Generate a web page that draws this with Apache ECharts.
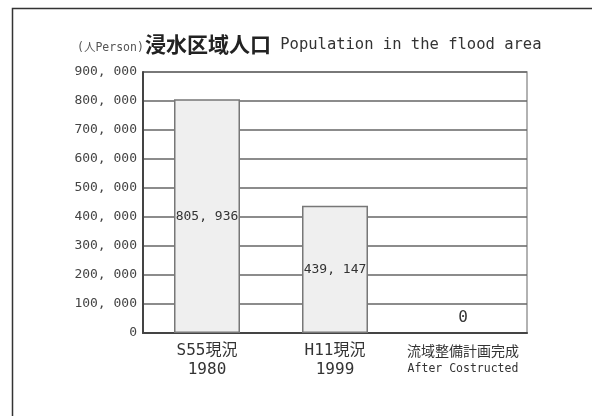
<!DOCTYPE html>
<html>
<head>
<meta charset="utf-8">
<script src="https://cdn.jsdelivr.net/npm/echarts@6/dist/echarts.min.js"></script>
<style>
  html, body { margin: 0; padding: 0; background: #fff; }
  #chart { width: 592px; height: 416px; }
</style>
</head>
<body>
<div id="chart"></div>
<script>
// Population living in the flood area, by stage
const categories = ['S55現況\n1980', 'H11現況\n1999', '流域整備計画完成\nAfter Costructed'];
const population = [805936, 439147, 0];
const yTicks = { min: 0, max: 900000, interval: 100000 };

const MONO = '"DejaVu Sans Mono", "Noto Sans CJK JP", monospace';
const CJK = '"Noto Sans CJK JP", "DejaVu Sans Mono", sans-serif';

// thousands separated by ", " e.g. 805, 936
function fmt(v) {
  return String(v).replace(/\B(?=(\d{3})+(?!\d))/g, ', ');
}

const chart = echarts.init(document.getElementById('chart'), null, { renderer: 'canvas' });

chart.setOption({
  backgroundColor: '#ffffff',
  animation: false,
  title: {
    left: 72,
    top: 29,
    text: '{u|(人Person)}{t|浸水区域人口}{e| Population in the flood area}',
    textStyle: {
      fontWeight: 'normal',
      rich: {
        u: { fontFamily: MONO, fontSize: 11.5, fontWeight: 'normal', color: '#555', padding: [7, 1, 0, 0] },
        t: { fontFamily: CJK, fontSize: 21, fontWeight: 'bold', color: '#222' },
        e: { fontFamily: MONO, fontSize: 15.5, fontWeight: 'normal', color: '#333' }
      }
    }
  },
  graphic: [
    {
      type: 'rect',
      silent: true,
      z: -1,
      shape: { x: 12.5, y: 8.5, width: 620, height: 440 },
      style: { fill: 'none', stroke: '#333', lineWidth: 1.5 }
    }
  ],
  grid: {
    left: 143,
    right: 65,
    top: 72,
    bottom: 83,
    show: true,
    borderColor: '#999',
    borderWidth: 1.5,
    backgroundColor: 'transparent'
  },
  xAxis: {
    type: 'category',
    data: categories,
    axisTick: { show: false },
    axisLine: { lineStyle: { color: '#444', width: 2 } },
    axisLabel: {
      interval: 0,
      margin: 8,
      lineHeight: 19,
      formatter: function (v, i) {
        const parts = v.split('\n');
        return i === 2
          ? '{s|' + parts[0] + '}\n{m|' + parts[1] + '}'
          : '{b|' + parts[0] + '}\n{b|' + parts[1] + '}';
      },
      rich: {
        b: { fontFamily: MONO, fontSize: 16, color: '#333', lineHeight: 19 },
        s: { fontFamily: CJK, fontSize: 14, color: '#333', lineHeight: 19 },
        m: { fontFamily: MONO, fontSize: 11.5, color: '#333', lineHeight: 19 }
      }
    }
  },
  yAxis: {
    type: 'value',
    min: yTicks.min,
    max: yTicks.max,
    interval: yTicks.interval,
    axisLine: { show: true, lineStyle: { color: '#444', width: 2 } },
    axisTick: { show: false },
    axisLabel: {
      margin: 6,
      fontFamily: MONO,
      fontSize: 13,
      color: '#444',
      formatter: fmt
    },
    splitLine: { show: true, lineStyle: { color: '#666', width: 1.5 } }
  },
  series: [
    {
      type: 'bar',
      barWidth: 66,
      data: population.map(function (v) {
        return v === 0
          ? {
              value: v,
              itemStyle: { color: 'transparent', borderWidth: 0 },
              label: { position: 'top', distance: 7, fontSize: 16 }
            }
          : { value: v };
      }),
      itemStyle: { color: '#efefef', borderColor: '#777', borderWidth: 1.5 },
      label: {
        show: true,
        position: 'inside',
        fontFamily: MONO,
        fontSize: 13,
        color: '#333',
        formatter: function (p) { return fmt(p.value); }
      },
      z: 3
    }
  ]
});
</script>
</body>
</html>
